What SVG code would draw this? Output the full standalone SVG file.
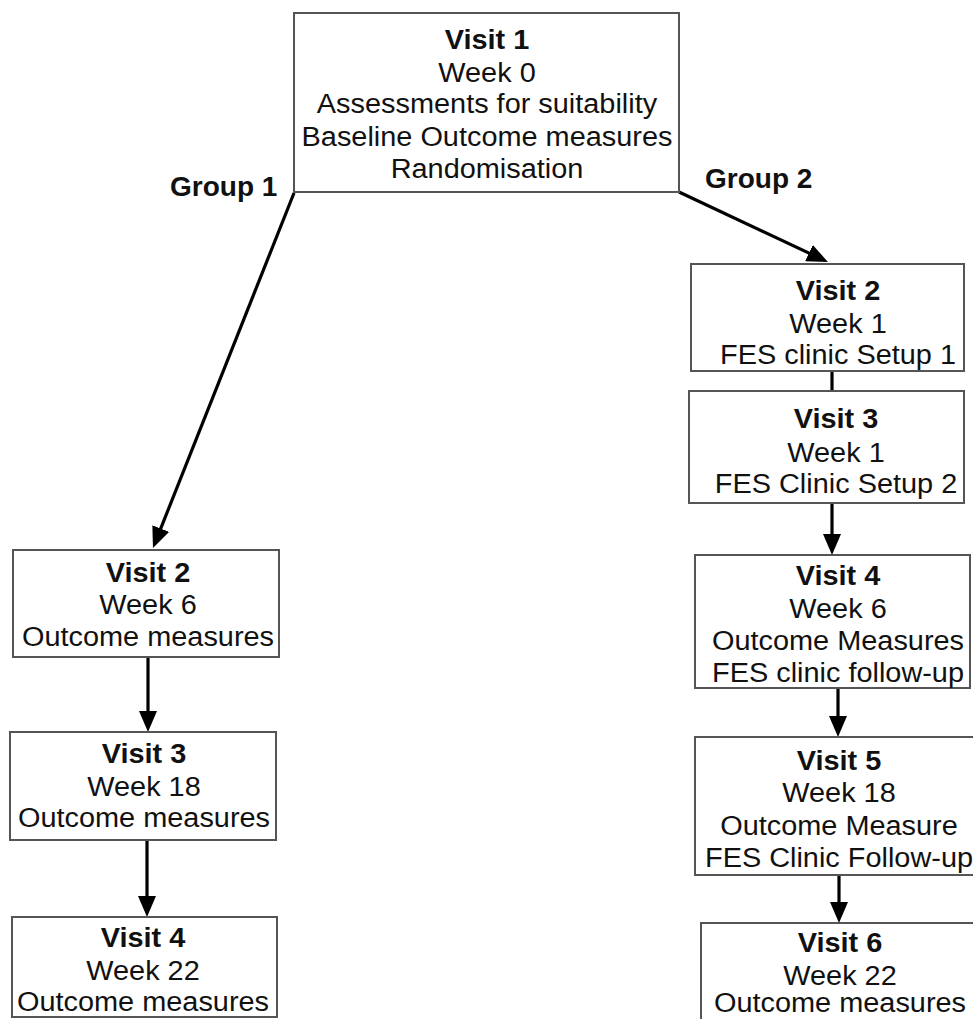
<svg xmlns="http://www.w3.org/2000/svg" width="973" height="1019" viewBox="0 0 973 1019">
<style>
.box{fill:#fff;stroke:#555;stroke-width:2}
.t{font-family:"Liberation Sans",Arial,sans-serif;font-size:27px;fill:#111;text-anchor:middle}
.b{font-weight:bold}
.g{font-family:"Liberation Sans",Arial,sans-serif;font-size:28px;font-weight:bold;fill:#111}
.c{stroke:#000;stroke-width:3.2;fill:none}
</style>
<defs>
<marker id="ah" markerUnits="userSpaceOnUse" markerWidth="21" markerHeight="18" refX="9" refY="9" orient="auto" viewBox="0 0 21 18">
<path d="M0,0 L21,9 L0,18 z" fill="#000"/>
</marker>
</defs>
<rect width="973" height="1019" fill="#fff"/>
<g id="connectors">
<line class="c" x1="294" y1="193" x2="157.4" y2="536.9" marker-end="url(#ah)"/>
<line class="c" x1="679" y1="192" x2="817.1" y2="256.9" marker-end="url(#ah)"/>
<line class="c" x1="148" y1="657" x2="148" y2="720" marker-end="url(#ah)"/>
<line class="c" x1="147" y1="840" x2="147" y2="905" marker-end="url(#ah)"/>
<line class="c" x1="832" y1="371" x2="832" y2="391"/>
<line class="c" x1="832" y1="503" x2="832" y2="543" marker-end="url(#ah)"/>
<line class="c" x1="838" y1="688" x2="838" y2="725" marker-end="url(#ah)"/>
<line class="c" x1="839" y1="875" x2="839" y2="911" marker-end="url(#ah)"/>
</g>
<g id="labels">
<text class="g" x="170" y="196">Group 1</text>
<text class="g" x="705" y="188">Group 2</text>
</g>
<g id="v1">
<rect class="box" x="294" y="13" width="385" height="179"/>
<g transform="translate(487,0) scale(1.07,1)">
<text class="t b" x="0" y="49">Visit 1</text>
<text class="t" x="0" y="82">Week 0</text>
<text class="t" x="0" y="113">Assessments for suitability</text>
<text class="t" x="0" y="146">Baseline Outcome measures</text>
<text class="t" x="0" y="178">Randomisation</text>
</g>
</g>
<g id="g1v2">
<rect class="box" x="13" y="550" width="266" height="107"/>
<g transform="translate(148,0) scale(1.07,1)">
<text class="t b" x="0" y="582">Visit 2</text>
<text class="t" x="0" y="614">Week 6</text>
<text class="t" x="0" y="646">Outcome measures</text>
</g>
</g>
<g id="g1v3">
<rect class="box" x="10" y="732" width="266" height="108"/>
<g transform="translate(144,0) scale(1.07,1)">
<text class="t b" x="0" y="763">Visit 3</text>
<text class="t" x="0" y="796">Week 18</text>
<text class="t" x="0" y="827">Outcome measures</text>
</g>
</g>
<g id="g1v4">
<rect class="box" x="12" y="917" width="265" height="100"/>
<g transform="translate(143,0) scale(1.07,1)">
<text class="t b" x="0" y="947">Visit 4</text>
<text class="t" x="0" y="980">Week 22</text>
<text class="t" x="0" y="1011">Outcome measures</text>
</g>
</g>
<g id="g2v2">
<rect class="box" x="691" y="264" width="273" height="107"/>
<g transform="translate(838,0) scale(1.07,1)">
<text class="t b" x="0" y="300">Visit 2</text>
<text class="t" x="0" y="333">Week 1</text>
<text class="t" x="0" y="364">FES clinic Setup 1</text>
</g>
</g>
<g id="g2v3">
<rect class="box" x="689" y="391" width="275" height="112"/>
<g transform="translate(836,0) scale(1.07,1)">
<text class="t b" x="0" y="428">Visit 3</text>
<text class="t" x="0" y="462">Week 1</text>
<text class="t" x="0" y="493">FES Clinic Setup 2</text>
</g>
</g>
<g id="g2v4">
<rect class="box" x="695" y="555" width="275" height="133"/>
<g transform="translate(838,0) scale(1.07,1)">
<text class="t b" x="0" y="585">Visit 4</text>
<text class="t" x="0" y="618">Week 6</text>
<text class="t" x="0" y="650">Outcome Measures</text>
<text class="t" x="0" y="682">FES clinic follow-up</text>
</g>
</g>
<g id="g2v5">
<rect class="box" x="695" y="737" width="282" height="138"/>
<g transform="translate(839,0) scale(1.07,1)">
<text class="t b" x="0" y="770">Visit 5</text>
<text class="t" x="0" y="802">Week 18</text>
<text class="t" x="0" y="835">Outcome Measure</text>
<text class="t" x="0" y="867">FES Clinic Follow-up</text>
</g>
</g>
<g id="g2v6">
<rect class="box" x="701" y="923" width="276" height="100"/>
<g transform="translate(840,0) scale(1.07,1)">
<text class="t b" x="0" y="952">Visit 6</text>
<text class="t" x="0" y="985">Week 22</text>
<text class="t" x="0" y="1012">Outcome measures</text>
</g>
</g>
</svg>
